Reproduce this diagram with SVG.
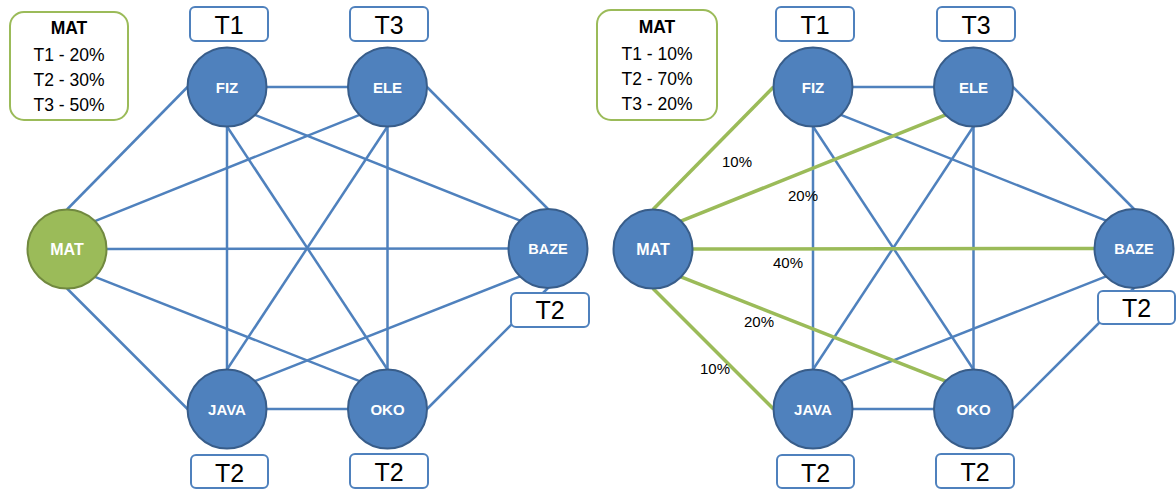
<svg xmlns="http://www.w3.org/2000/svg" width="1176" height="489" viewBox="0 0 1176 489">
<style>
.e{stroke:#4F81BD;stroke-width:2.5;fill:none}
.g{stroke:#9BBB59;stroke-width:3.5;fill:none}
.n{fill:#4F81BD;stroke:#385D8A;stroke-width:2}
.m{fill:#9BBB59;stroke:#71893F;stroke-width:2}
.nl{font-family:"Liberation Sans",Arial,sans-serif;font-weight:bold;font-size:15px;fill:#fff;text-anchor:middle}
.tb{fill:#fff;stroke:#4F81BD;stroke-width:2}
.tt{font-family:"Liberation Sans",Arial,sans-serif;font-size:25px;fill:#000;text-anchor:middle}
.lg{fill:#fff;stroke:#9BBB59;stroke-width:2}
.lt{font-family:"Liberation Sans",Arial,sans-serif;font-size:17.5px;fill:#000;text-anchor:middle}
.lh{font-weight:bold}
.pc{font-family:"Liberation Sans",Arial,sans-serif;font-size:15px;fill:#000}
</style>
<rect width="1176" height="489" fill="#fff"/>
<g id="connectors">
<g id="left-edges">
<line class="e" x1="266.5" y1="87" x2="348" y2="87"/>
<line class="e" x1="187.5" y1="87" x2="67" y2="209.5"/>
<line class="e" x1="254.9" y1="114.9" x2="520.1" y2="220.6"/>
<line class="e" x1="227" y1="126.5" x2="227" y2="369.5"/>
<line class="e" x1="227" y1="126.5" x2="387.5" y2="369.5"/>
<line class="e" x1="359.6" y1="114.9" x2="94.9" y2="221.1"/>
<line class="e" x1="427" y1="87" x2="548" y2="209"/>
<line class="e" x1="387.5" y1="126.5" x2="227" y2="369.5"/>
<line class="e" x1="387.5" y1="126.5" x2="387.5" y2="369.5"/>
<line class="e" x1="106.5" y1="249" x2="508.5" y2="248.5"/>
<line class="e" x1="67" y1="288.5" x2="187.5" y2="409"/>
<line class="e" x1="94.9" y1="276.9" x2="359.6" y2="381.1"/>
<line class="e" x1="520.1" y1="276.4" x2="254.9" y2="381.1"/>
<line class="e" x1="548" y1="288" x2="427" y2="409"/>
<line class="e" x1="266.5" y1="409" x2="348" y2="409"/>
</g>
<g id="right-edges">
<line class="e" x1="852.5" y1="87" x2="934" y2="87"/>
<line class="e" x1="840.9" y1="114.9" x2="1106.1" y2="220.6"/>
<line class="e" x1="813" y1="126.5" x2="813" y2="369.5"/>
<line class="e" x1="813" y1="126.5" x2="973.5" y2="369.5"/>
<line class="e" x1="1013" y1="87" x2="1134" y2="209"/>
<line class="e" x1="973.5" y1="126.5" x2="813" y2="369.5"/>
<line class="e" x1="973.5" y1="126.5" x2="973.5" y2="369.5"/>
<line class="e" x1="1106.1" y1="276.4" x2="840.9" y2="381.1"/>
<line class="e" x1="1134" y1="288" x2="1013" y2="409"/>
<line class="e" x1="852.5" y1="409" x2="934" y2="409"/>
<line class="g" x1="773.5" y1="87" x2="653" y2="209.5"/>
<line class="g" x1="945.6" y1="114.9" x2="680.9" y2="221.1"/>
<line class="g" x1="692.5" y1="249" x2="1094.5" y2="248.5"/>
<line class="g" x1="653" y1="288.5" x2="773.5" y2="409"/>
<line class="g" x1="680.9" y1="276.9" x2="945.6" y2="381.1"/>
</g>
</g>
<g id="edge-labels">
<text class="pc" x="722" y="167">10%</text>
<text class="pc" x="788" y="201">20%</text>
<text class="pc" x="773" y="268">40%</text>
<text class="pc" x="744" y="327">20%</text>
<text class="pc" x="700" y="374">10%</text>
</g>
<g id="left-MAT"><circle class="m" cx="67" cy="249" r="39.5"/><text class="nl" x="67" y="255" style="font-size:16px">MAT</text></g>
<g id="left-FIZ"><circle class="n" cx="227" cy="87" r="39.5"/><text class="nl" x="227" y="92.5">FIZ</text></g>
<g id="left-ELE"><circle class="n" cx="387.5" cy="87" r="39.5"/><text class="nl" x="387.5" y="92.5">ELE</text></g>
<g id="left-BAZE"><circle class="n" cx="548" cy="248.5" r="39.5"/><text class="nl" x="548" y="254" style="font-size:14.5px">BAZE</text></g>
<g id="left-JAVA"><circle class="n" cx="227" cy="409" r="39.5"/><text class="nl" x="227" y="414.5">JAVA</text></g>
<g id="left-OKO"><circle class="n" cx="387.5" cy="409" r="39.5"/><text class="nl" x="387.5" y="414.5">OKO</text></g>
<g id="right-MAT"><circle class="n" cx="653" cy="249" r="39.5"/><text class="nl" x="653" y="255" style="font-size:16px">MAT</text></g>
<g id="right-FIZ"><circle class="n" cx="813" cy="87" r="39.5"/><text class="nl" x="813" y="92.5">FIZ</text></g>
<g id="right-ELE"><circle class="n" cx="973.5" cy="87" r="39.5"/><text class="nl" x="973.5" y="92.5">ELE</text></g>
<g id="right-BAZE"><circle class="n" cx="1134" cy="248.5" r="39.5"/><text class="nl" x="1134" y="254" style="font-size:14.5px">BAZE</text></g>
<g id="right-JAVA"><circle class="n" cx="813" cy="409" r="39.5"/><text class="nl" x="813" y="414.5">JAVA</text></g>
<g id="right-OKO"><circle class="n" cx="973.5" cy="409" r="39.5"/><text class="nl" x="973.5" y="414.5">OKO</text></g>
<g id="left-tags">
<rect class="tb" x="190" y="7" width="78" height="34" rx="5"/><text class="tt" x="229" y="33.5">T1</text>
<rect class="tb" x="350" y="7" width="78" height="34" rx="5"/><text class="tt" x="389" y="33.5">T3</text>
<rect class="tb" x="511" y="293" width="78" height="34" rx="5"/><text class="tt" x="550" y="319">T2</text>
<rect class="tb" x="191" y="455" width="77" height="33" rx="5"/><text class="tt" x="229.5" y="482">T2</text>
<rect class="tb" x="350" y="454" width="78" height="34" rx="5"/><text class="tt" x="389" y="481">T2</text>
</g>
<g id="right-tags">
<rect class="tb" x="776" y="7" width="78" height="34" rx="5"/><text class="tt" x="815" y="33.5">T1</text>
<rect class="tb" x="937" y="7" width="78" height="34" rx="5"/><text class="tt" x="976" y="33.5">T3</text>
<rect class="tb" x="1098" y="291" width="77" height="33" rx="5"/><text class="tt" x="1136.5" y="317">T2</text>
<rect class="tb" x="777" y="455" width="77" height="33" rx="5"/><text class="tt" x="815.5" y="482">T2</text>
<rect class="tb" x="936" y="454" width="78" height="34" rx="5"/><text class="tt" x="975" y="481">T2</text>
</g>
<g id="left-legend">
<rect class="lg" x="10" y="12" width="118" height="108" rx="14"/>
<text class="lt lh" x="69" y="34">MAT</text>
<text class="lt" x="69" y="61">T1 - 20%</text>
<text class="lt" x="69" y="86">T2 - 30%</text>
<text class="lt" x="69" y="111">T3 - 50%</text>
</g>
<g id="right-legend">
<rect class="lg" x="597" y="10" width="120" height="110" rx="14"/>
<text class="lt lh" x="657" y="33">MAT</text>
<text class="lt" x="657" y="60">T1 - 10%</text>
<text class="lt" x="657" y="85">T2 - 70%</text>
<text class="lt" x="657" y="110">T3 - 20%</text>
</g>
</svg>
